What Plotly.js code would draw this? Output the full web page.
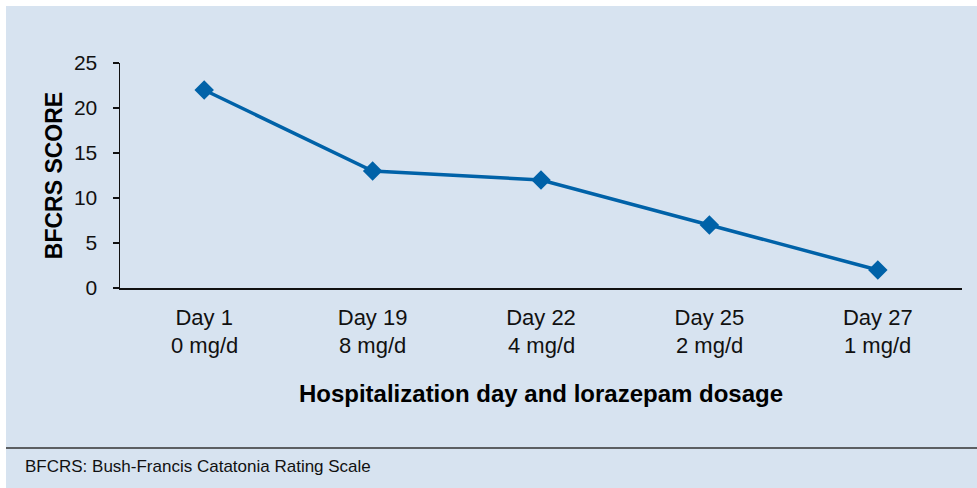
<!DOCTYPE html>
<html>
<head>
<meta charset="utf-8">
<script src="https://cdn.plot.ly/plotly-3.0.1.min.js"></script>
<style>html,body{margin:0;padding:0;background:#fff;}#chart{width:977px;height:488px;}</style>
</head>
<body>
<div id="chart"></div>
<script>
const days = ["Day 1", "Day 19", "Day 22", "Day 25", "Day 27"];
const doses = ["0 mg/d", "8 mg/d", "4 mg/d", "2 mg/d", "1 mg/d"];
const bfcrsScores = [22, 13, 12, 7, 2];
const yTickValues = [0, 5, 10, 15, 20, 25];
const footnote = "BFCRS: Bush-Francis Catatonia Rating Scale";
const xTitle = "Hospitalization day and lorazepam dosage";
const yTitle = "BFCRS SCORE";

const FONT = "Liberation Sans, Arial, Helvetica, sans-serif";
const BG = "#d7e3f0";
const BLUE = "#0062a8";
const W = 977, H = 488;
const m = {l: 120, r: 15, t: 63, b: 200};
const pw = W - m.l - m.r, ph = H - m.t - m.b;
const px = x => (x - m.l) / pw;
const py = y => (H - m.b - y) / ph;
const idx = days.map((_, i) => i);

const trace = {
  x: idx,
  y: bfcrsScores,
  type: "scatter",
  mode: "lines+markers",
  line: {color: BLUE, width: 3.5},
  marker: {symbol: "diamond", size: 15, color: BLUE},
  hoverinfo: "none"
};

const doseAnnotations = doses.map((d, i) => ({
  text: d, xref: "x", yref: "paper", x: idx[i], y: py(345), xanchor: "center", yanchor: "middle",
  showarrow: false, font: {size: 22, family: FONT, color: "#111"}
}));

const layout = {
  width: W, height: H,
  margin: m,
  paper_bgcolor: "#ffffff",
  plot_bgcolor: "rgba(0,0,0,0)",
  showlegend: false,
  font: {family: FONT, color: "#111"},
  xaxis: {
    range: [-0.5, 4.5],
    tickmode: "array",
    tickvals: idx,
    ticktext: days,
    showgrid: false, zeroline: false,
    showline: true, linecolor: "#111", linewidth: 1.5,
    ticks: "",
    ticklabelstandoff: 9,
    tickfont: {size: 22, family: FONT, color: "#111"},
    title: {text: xTitle, font: {size: 24, family: FONT, color: "#000", weight: "bold"}, standoff: 56},
    fixedrange: true
  },
  yaxis: {
    range: [0, 25],
    tickmode: "array",
    tickvals: yTickValues,
    ticktext: yTickValues.map(String),
    showgrid: false, zeroline: false,
    showline: true, linecolor: "#111", linewidth: 1.5,
    ticks: "outside", ticklen: 6, tickwidth: 1.5, tickcolor: "#111",
    ticklabelstandoff: 11,
    tickfont: {size: 21, family: FONT, color: "#111"},
    title: {text: yTitle, font: {size: 23, family: FONT, color: "#000", weight: "bold"}, standoff: 5},
    fixedrange: true
  },
  shapes: [
    {type: "rect", xref: "paper", yref: "paper", x0: px(6), x1: px(977), y0: py(488), y1: py(6),
     fillcolor: BG, line: {width: 0}, layer: "below"},
    {type: "line", xref: "paper", yref: "paper", x0: px(6), x1: px(977), y0: py(448), y1: py(448),
     line: {color: "#333", width: 1.5}}
  ],
  annotations: doseAnnotations.concat([
    {text: footnote, xref: "paper", yref: "paper", x: px(23), y: py(466), xanchor: "left", yanchor: "middle",
     showarrow: false, font: {size: 17, family: FONT, color: "#111"}}
  ])
};

Plotly.newPlot("chart", [trace], layout, {staticPlot: true, displayModeBar: false});
</script>
</body>
</html>
